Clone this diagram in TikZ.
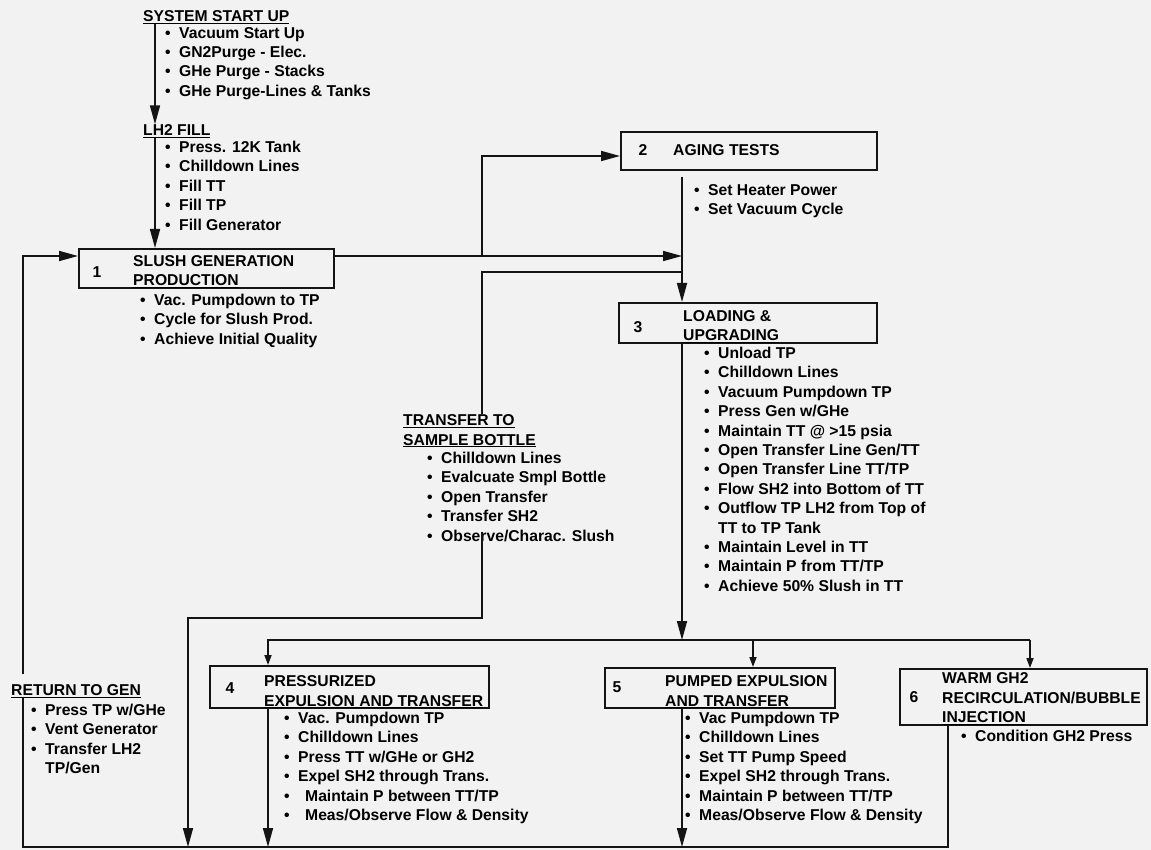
\documentclass[tikz,border=0pt]{standalone}
\usepackage{fontspec}
\setmainfont{Liberation Sans}
\usetikzlibrary{arrows.meta,calc}
\newcommand{\bul}{\makebox[14pt][l]{\textbullet}}
\newcommand{\hang}{\hspace*{14pt}}

\begin{document}
\begin{tikzpicture}[x=1pt,y=-1pt,font=\fontsize{15.7}{19.4}\selectfont\bfseries,
 stepbox/.style={draw=black!92,line width=1.7pt,anchor=north west,inner sep=0pt},
 tag/.style={anchor=base,inner sep=0pt,text=black},
 head/.style={anchor=base west,align=left,inner sep=0pt,text=black},
 items/.style={anchor=north west,align=left,inner sep=0pt,text=black},
 plain/.style={draw=black!92,line width=1.7pt},
 bigarr/.style={plain,-{Triangle[length=19pt,width=10pt]}},
 smallarr/.style={plain,-{Triangle[length=10pt,width=7pt]}}]
\fill[white!95!black] (0,0) rectangle (1151,850);
\useasboundingbox (0,0) rectangle (1151,850);
\node[head] (sysup) at (143,21.5) {\underline{SYSTEM START UP}};
\node[items] (sysupList) at (165,27) {\bul Vacuum Start Up\\\bul GN2Purge - Elec.\\\bul GHe Purge - Stacks\\\bul GHe Purge-Lines \& Tanks};
\node[head] (lhfill) at (143,135.5) {\underline{LH2 FILL}};
\node[items] (lhList) at (165,141) {\bul Press. 12K Tank\\\bul Chilldown Lines\\\bul Fill TT\\\bul Fill TP\\\bul Fill Generator};
\node[stepbox,minimum width=255pt,minimum height=39pt] (gen) at (78,248) {};
\node[tag] (genNum) at (97,278) {1};
\node[head] (genTitle) at (133,286) {SLUSH GENERATION\\\underline{PRODUCTION}};
\node[items] (genList) at (140,294) {\bul Vac. Pumpdown to TP\\\bul Cycle for Slush Prod.\\\bul Achieve Initial Quality};
\node[stepbox,minimum width=256pt,minimum height=38pt] (aging) at (620,131) {};
\node[tag] (agingNum) at (643,155.5) {2};
\node[head] (agingTitle) at (673,155.5) {AGING TESTS};
\node[items] (agingList) at (694,184) {\bul Set Heater Power\\\bul Set Vacuum Cycle};
\node[stepbox,minimum width=258pt,minimum height=40pt] (load) at (618,302) {};
\node[tag] (loadNum) at (638,332) {3};
\node[head] (loadTitle) at (683,341) {LOADING \&\\\underline{UPGRADING}};
\node[items] (loadList) at (704,347) {\bul Unload TP\\\bul Chilldown Lines\\\bul Vacuum Pumpdown TP\\\bul Press Gen w/GHe\\\bul Maintain TT @ >15 psia\\\bul Open Transfer Line Gen/TT\\\bul Open Transfer Line TT/TP\\\bul Flow SH2 into Bottom of TT\\\bul Outflow TP LH2 from Top of\\\hang TT to TP Tank\\\bul Maintain Level in TT\\\bul Maintain P from TT/TP\\\bul Achieve 50\% Slush in TT};
\node[head] (sample) at (403,445) {\underline{TRANSFER TO}\\\underline{SAMPLE BOTTLE}};
\node[items] (sampleList) at (427,452) {\bul Chilldown Lines\\\bul Evalcuate Smpl Bottle\\\bul Open Transfer\\\bul Transfer SH2\\\bul Observe/Charac. Slush};
\node[head] (ret) at (11,695.5) {\underline{RETURN TO GEN}};
\node[items] (retList) at (31,704) {\bul Press TP w/GHe\\\bul Vent Generator\\\bul Transfer LH2\\\hang TP/Gen};
\node[stepbox,minimum width=279pt,minimum height=42pt] (pres) at (209,665) {};
\node[tag] (presNum) at (230,693) {4};
\node[head] (presTitle) at (264,706) {PRESSURIZED\\\underline{EXPULSION AND TRANSFER}};
\node[items] (presList) at (284,712) {\bul Vac. Pumpdown TP\\\bul Chilldown Lines\\\bul Press TT w/GHe or GH2\\\bul Expel SH2 through Trans.\\\bul\, Maintain P between TT/TP\\\bul\, Meas/Observe Flow \& Density};
\node[stepbox,minimum width=230pt,minimum height=40pt] (pump) at (604,667) {};
\node[tag] (pumpNum) at (617,692) {5};
\node[head] (pumpTitle) at (665,706) {PUMPED EXPULSION\\\underline{AND TRANSFER}};
\node[items] (pumpList) at (685,712) {\bul Vac Pumpdown TP\\\bul Chilldown Lines\\\bul Set TT Pump Speed\\\bul Expel SH2 through Trans.\\\bul Maintain P between TT/TP\\\bul Meas/Observe Flow \& Density};
\node[stepbox,minimum width=247pt,minimum height=56pt] (warm) at (899,668) {};
\node[tag] (warmNum) at (914,702.5) {6};
\node[head] (warmTitle) at (942,722.5) {WARM GH2\\RECIRCULATION/BUBBLE\\\underline{INJECTION}};
\node[items] (warmList) at (961,730) {\bul Condition GH2 Press};
% junctions
\coordinate (tk) at (682,177);
\coordinate (genout) at ($(gen.north east)+(0,8)$);
\coordinate (genin) at ($(gen.north west)+(0,8)$);
\coordinate (br) at (482,256);
\coordinate (agin) at ($(aging.north west)+(0,25)$);
\coordinate (j2) at (682,272);
\coordinate (sx) at ($(sampleList.south west)+(55,-10)$);
\coordinate (sdrop) at (188,618);
\coordinate (dist) at (682,640);
\coordinate (dl) at (268,640);
\coordinate (dm) at (753,640);
\coordinate (dr) at (1030,640);
\coordinate (bl) at (23,847);
\coordinate (wd) at ($(warm.south west)+(49,0)$);
\coordinate (lhx) at ([xshift=12pt]lhfill.south west);
% flow
\draw[bigarr] ([xshift=12pt]sysup.south west) -- ([xshift=12pt]lhfill.north west);
\draw[bigarr] (lhx) -- (lhx |- gen.north);
\draw[bigarr] (genout) -- (genout -| tk);
\draw[bigarr] (br) |- (agin);
\draw[bigarr] (tk) -- (tk |- load.north);
\draw[plain] (j2) -| (sample.north -| br);
\draw[bigarr] (sx) |- (sdrop) -- (sdrop |- bl);
\draw[bigarr] (load.south -| tk) -- (dist);
\draw[smallarr] (dr) -| (dl |- pres.north);
\draw[smallarr] (dm) -- (dm |- pump.north);
\draw[smallarr] (dr) -- (dr |- warm.north);
\draw[bigarr] (pres.south -| dl) -- (dl |- bl);
\draw[bigarr] (pump.south -| tk) -- (tk |- bl);
\draw[plain] (wd) |- (bl) -- (bl |- ret.south);
\draw[bigarr] ($(ret.north -| bl)+(0,-10)$) |- (genin);
\end{tikzpicture}
\end{document}
